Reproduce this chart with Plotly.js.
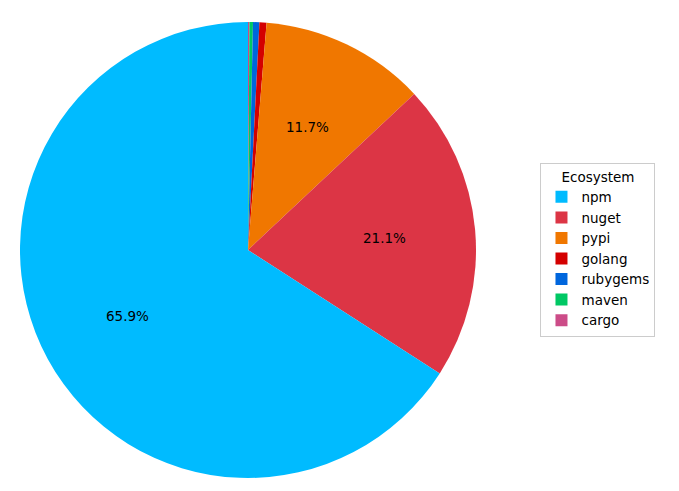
<!DOCTYPE html>
<html>
<head>
<meta charset="utf-8">
<script src="https://cdn.plot.ly/plotly-3.0.1.min.js"></script>
<style>html,body{margin:0;padding:0;background:#fff;}#chart{width:679px;height:491px;}</style>
</head>
<body>
<div id="chart"></div>
<script>
const ecosystems = ["npm", "nuget", "pypi", "golang", "rubygems", "maven", "cargo"];
const shares = [65.9, 21.1, 11.7, 0.5, 0.45, 0.25, 0.1];
const colors = ["#00BBFF", "#DC3545", "#F07700", "#D40000", "#0066DD", "#00C864", "#CC4C88"];
const labelMin = 5; // percent threshold for showing a label

const W = 679, H = 491;
const cxPx = 248, cyPx = 250, rPx = 228;
const dom = {
  x: [(cxPx - rPx) / W, (cxPx + rPx) / W],
  y: [(H - cyPx - rPx) / H, (H - cyPx + rPx) / H]
};

const total = shares.reduce((a, b) => a + b, 0);
const annotations = [];
let cum = 0;
shares.forEach((v, i) => {
  const frac = v / total;
  if (frac * 100 >= labelMin) {
    const th = (90 + 360 * (cum + frac / 2)) * Math.PI / 180;
    const px = cxPx + 0.6 * rPx * Math.cos(th);
    const py = cyPx - 0.6 * rPx * Math.sin(th);
    annotations.push({
      x: px / W, y: 1 - py / H, xref: "paper", yref: "paper",
      text: (frac * 100).toFixed(1) + "%", showarrow: false,
      font: {family: "DejaVu Sans", size: 13.5, color: "#000"},
      xanchor: "center", yanchor: "middle"
    });
  }
  cum += frac;
});

// Counterclockwise from 12 o'clock == reversed order drawn clockwise from 12 o'clock
const data = [{
  type: "pie",
  labels: ecosystems.slice().reverse(),
  values: shares.slice().reverse(),
  marker: {colors: colors.slice().reverse(), line: {width: 0}},
  sort: false,
  direction: "clockwise",
  rotation: 0,
  textinfo: "none",
  hoverinfo: "label+percent",
  domain: dom
}];

const layout = {
  width: W, height: H,
  margin: {l: 0, r: 0, t: 0, b: 0},
  paper_bgcolor: "#fff",
  showlegend: true,
  font: {family: "DejaVu Sans", size: 13.5, color: "#000"},
  legend: {
    x: 0.796, y: 0.668, xanchor: "left", yanchor: "top",
    bordercolor: "#CCCCCC", borderwidth: 1, bgcolor: "#fff",
    title: {text: "Ecosystem", side: "top center", font: {family: "DejaVu Sans", size: 13.5}},
    font: {family: "DejaVu Sans", size: 13.5},
    traceorder: "reversed"
  },
  annotations: annotations
};

Plotly.newPlot("chart", data, layout, {displayModeBar: false});
</script>
</body>
</html>
